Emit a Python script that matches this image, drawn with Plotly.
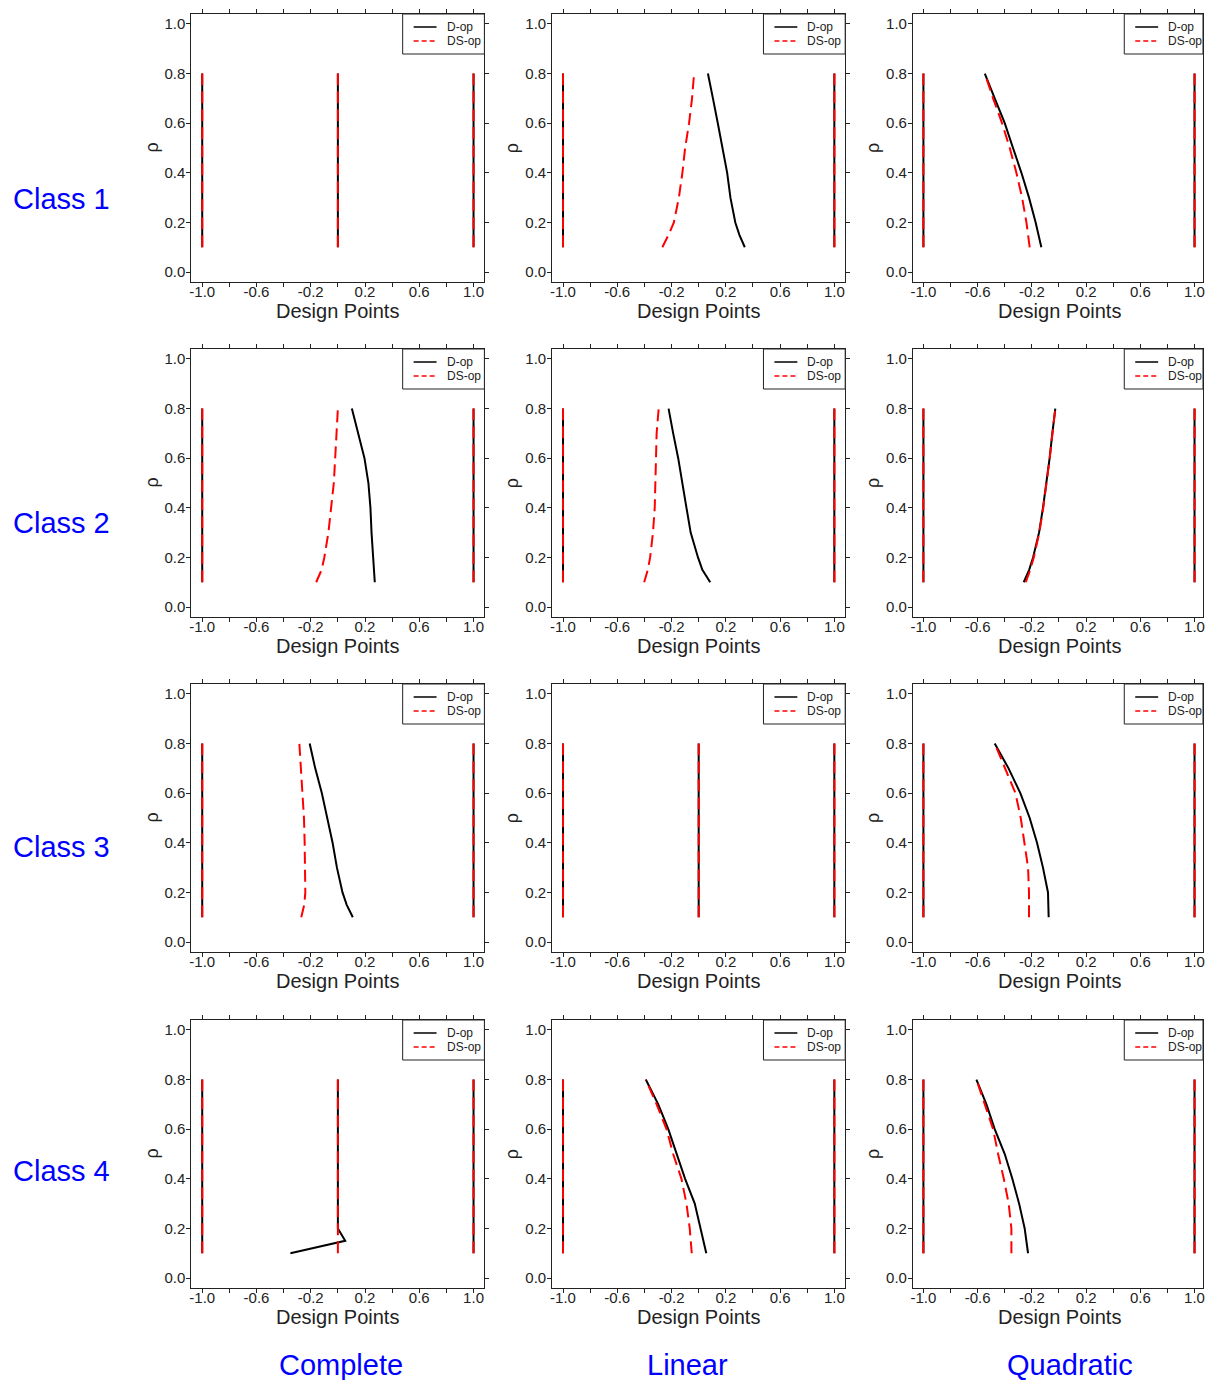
import plotly.graph_objects as go

# ---------------- data ----------------
rho = [0.1, 0.15, 0.2, 0.3, 0.4, 0.5, 0.6, 0.7, 0.8]
lower_point = -1.0
upper_point = 1.0

classes = ["Class 1", "Class 2", "Class 3", "Class 4"]
models = ["Complete", "Linear", "Quadratic"]
series_names = ["D-op", "DS-op"]

# middle design point, D-optimal (black solid)
d_c1_complete = [0, 0, 0, 0, 0, 0, 0, 0, 0]
d_c1_linear = [0.34, 0.30, 0.27, 0.234, 0.21, 0.178, 0.141, 0.105, 0.068]
d_c1_quadratic = [-0.13, -0.15, -0.172, -0.221, -0.277, -0.339, -0.40, -0.474, -0.547]
d_c2_complete = [0.272, 0.265, 0.257, 0.248, 0.24, 0.225, 0.196, 0.147, 0.103]
d_c2_linear = [0.085, 0.027, -0.005, -0.059, -0.09, -0.12, -0.151, -0.188, -0.222]
d_c2_quadratic = [-0.26, -0.22, -0.191, -0.147, -0.118, -0.091, -0.069, -0.049, -0.027]
d_c3_complete = [0.11, 0.065, 0.034, -0.007, -0.039, -0.081, -0.118, -0.167, -0.208]
d_c3_linear = [0, 0, 0, 0, 0, 0, 0, 0, 0]
d_c3_quadratic = [-0.076, -0.078, -0.081, -0.118, -0.162, -0.216, -0.285, -0.372, -0.474]
d_c4_complete = [-0.35, 0.054, 0.0, 0, 0, 0, 0, 0, 0]
d_c4_linear = [0.056, 0.035, 0.015, -0.029, -0.10, -0.163, -0.224, -0.298, -0.39]
d_c4_quadratic = [-0.228, -0.24, -0.253, -0.294, -0.344, -0.40, -0.474, -0.535, -0.609]

# middle design point, DS-optimal (red dashed)
ds_c1_complete = [0, 0, 0, 0, 0, 0, 0, 0, 0]
ds_c1_linear = [-0.268, -0.222, -0.183, -0.146, -0.12, -0.10, -0.071, -0.049, -0.034]
ds_c1_quadratic = [-0.216, -0.228, -0.24, -0.272, -0.314, -0.363, -0.42, -0.486, -0.547]
ds_c2_complete = [-0.16, -0.12, -0.10, -0.07, -0.05, -0.03, -0.02, -0.01, 0.0]
ds_c2_linear = [-0.402, -0.375, -0.358, -0.337, -0.324, -0.32, -0.317, -0.31, -0.295]
ds_c2_quadratic = [-0.245, -0.212, -0.186, -0.145, -0.116, -0.09, -0.068, -0.048, -0.027]
ds_c3_complete = [-0.27, -0.248, -0.24, -0.24, -0.245, -0.25, -0.26, -0.27, -0.284]
ds_c3_linear = [0, 0, 0, 0, 0, 0, 0, 0, 0]
ds_c3_quadratic = [-0.221, -0.221, -0.221, -0.228, -0.253, -0.282, -0.321, -0.396, -0.474]
ds_c4_complete = [0, 0, 0, 0, 0, 0, 0, 0, 0]
ds_c4_linear = [-0.051, -0.058, -0.066, -0.09, -0.127, -0.188, -0.237, -0.31, -0.39]
ds_c4_quadratic = [-0.351, -0.351, -0.351, -0.371, -0.407, -0.449, -0.486, -0.547, -0.609]

d_mid = [
    [d_c1_complete, d_c1_linear, d_c1_quadratic],
    [d_c2_complete, d_c2_linear, d_c2_quadratic],
    [d_c3_complete, d_c3_linear, d_c3_quadratic],
    [d_c4_complete, d_c4_linear, d_c4_quadratic],
]
ds_mid = [
    [ds_c1_complete, ds_c1_linear, ds_c1_quadratic],
    [ds_c2_complete, ds_c2_linear, ds_c2_quadratic],
    [ds_c3_complete, ds_c3_linear, ds_c3_quadratic],
    [ds_c4_complete, ds_c4_linear, ds_c4_quadratic],
]

x_tickvals = [-1.0, -0.8, -0.6, -0.4, -0.2, 0.0, 0.2, 0.4, 0.6, 0.8, 1.0]
x_ticktext = ["-1.0", "", "-0.6", "", "-0.2", "", "0.2", "", "0.6", "", "1.0"]
y_tickvals = [0.0, 0.2, 0.4, 0.6, 0.8, 1.0]
y_ticktext = ["0.0", "0.2", "0.4", "0.6", "0.8", "1.0"]

# ---------------- layout geometry ----------------
W, H = 1207, 1380
col_px = [(190, 484), (552, 846), (914, 1205)]
col_xrange = [[-1.08, 1.08], [-1.08, 1.08], [-1.077, 1.0625]]
row_px = [(14, 282), (349, 617), (684, 952), (1020, 1288)]
FONT = "Liberation Sans, Arial, sans-serif"
BLUE = "#0000FF"
INK = "#222"
RED = "#FF0000"

fig = go.Figure()
layout = dict(
    width=W, height=H, autosize=False,
    margin=dict(l=0, r=0, t=0, b=0),
    paper_bgcolor="white", plot_bgcolor="white",
    font=dict(family=FONT, color=INK),
    showlegend=False,
)
annotations = []
shapes = []


def build_line(mid):
    xs, ys = [], []
    xs += [lower_point] * len(rho) + [None]
    ys += list(rho) + [None]
    xs += list(mid) + [None]
    ys += list(rho) + [None]
    xs += [upper_point] * len(rho)
    ys += list(rho)
    return xs, ys


def px_x(p):
    return p / W


def px_y(p):
    return 1 - p / H


k = 0
for r in range(4):
    for c in range(3):
        k += 1
        sfx = "" if k == 1 else str(k)
        xa, ya = "x" + sfx, "y" + sfx
        x0, x1 = col_px[c]
        yt, yb = row_px[r]
        dom_x = [x0 / W, x1 / W]
        dom_y = [1 - yb / H, 1 - yt / H]
        last_col = (c == 2)

        xs, ys = build_line(d_mid[r][c])
        fig.add_trace(go.Scatter(x=xs, y=ys, mode="lines", name=series_names[0],
                                 line=dict(color="black", width=2),
                                 xaxis=xa, yaxis=ya,
                                 connectgaps=False, hoverinfo="skip"))
        xs, ys = build_line(ds_mid[r][c])
        fig.add_trace(go.Scatter(x=xs, y=ys, mode="lines", name=series_names[1],
                                 line=dict(color=RED, width=2, dash="12px,6px"),
                                 xaxis=xa, yaxis=ya,
                                 connectgaps=False, hoverinfo="skip"))

        axis_common = dict(showgrid=False, zeroline=False, showline=True,
                           linecolor=INK, linewidth=1,
                           ticks="outside", ticklen=4, tickcolor=INK,
                           tickfont=dict(size=15, family=FONT, color=INK))
        layout["xaxis" + sfx] = dict(domain=dom_x, anchor=ya, range=col_xrange[c],
                                     mirror="ticks",
                                     tickmode="array", tickvals=x_tickvals,
                                     ticktext=x_ticktext, ticklabelstandoff=-8,
                                     **axis_common)
        layout["yaxis" + sfx] = dict(domain=dom_y, anchor=xa, range=[-0.04, 1.04],
                                     mirror=(True if last_col else "ticks"),
                                     tickmode="array", tickvals=y_tickvals,
                                     ticktext=y_ticktext, ticklabelstandoff=-2,
                                     **axis_common)

        # legend box (drawn in paper space, top-right of each panel)
        lx1 = x1
        lx0 = col_px[c][0] + 294 - 82
        ly0, ly1 = yt, yt + 40
        shapes.append(dict(type="rect", xref="paper", yref="paper",
                           x0=px_x(lx0), x1=px_x(lx1), y0=px_y(ly1), y1=px_y(ly0),
                           line=dict(color=INK, width=1), fillcolor="white", layer="above"))
        shapes.append(dict(type="line", xref="paper", yref="paper",
                           x0=px_x(lx0 + 11), x1=px_x(lx0 + 34), y0=px_y(ly0 + 13), y1=px_y(ly0 + 13),
                           line=dict(color="black", width=1.5), layer="above"))
        shapes.append(dict(type="line", xref="paper", yref="paper",
                           x0=px_x(lx0 + 11), x1=px_x(lx0 + 34), y0=px_y(ly0 + 27), y1=px_y(ly0 + 27),
                           line=dict(color=RED, width=1.5, dash="5px,3px"), layer="above"))
        for j, nm in enumerate(series_names):
            annotations.append(dict(text=nm, x=px_x(lx0 + 42), y=px_y(ly0 + 13 + 14 * j),
                                    xref="paper", yref="paper", showarrow=False,
                                    xanchor="left", yanchor="middle",
                                    font=dict(size=12, family=FONT, color=INK)))

        # axis titles
        annotations.append(dict(text="Design Points", x=px_x(x0 + 147),
                                y=px_y(yb + 29), xref="paper", yref="paper",
                                showarrow=False, xanchor="center", yanchor="middle",
                                font=dict(size=20, family=FONT, color=INK)))
        annotations.append(dict(text="ρ", x=px_x(x0 - 40), y=px_y((yt + yb) / 2),
                                xref="paper", yref="paper", textangle=-90,
                                showarrow=False, xanchor="center", yanchor="middle",
                                font=dict(size=18, family=FONT, color=INK)))

class_y = [199, 523, 847, 1171]
for name, ypx in zip(classes, class_y):
    annotations.append(dict(text=name, x=px_x(60), y=px_y(ypx), xref="paper", yref="paper",
                            showarrow=False, xanchor="center", yanchor="middle",
                            font=dict(size=29, family=FONT, color=BLUE)))
model_x = [340, 688, 1072]
for name, xpx in zip(models, model_x):
    annotations.append(dict(text=name, x=px_x(xpx), y=px_y(1365), xref="paper", yref="paper",
                            showarrow=False, xanchor="center", yanchor="middle",
                            font=dict(size=29, family=FONT, color=BLUE)))

layout["annotations"] = annotations
layout["shapes"] = shapes
fig.update_layout(**layout)
fig.write_html(
    "out.html",
    config={"displayModeBar": False, "responsive": False},
    post_script=(
        "document.documentElement.style.margin='0';"
        "document.documentElement.style.overflow='hidden';"
        "document.body.style.margin='0';"
        "document.body.style.overflow='hidden';"
    ),
)
